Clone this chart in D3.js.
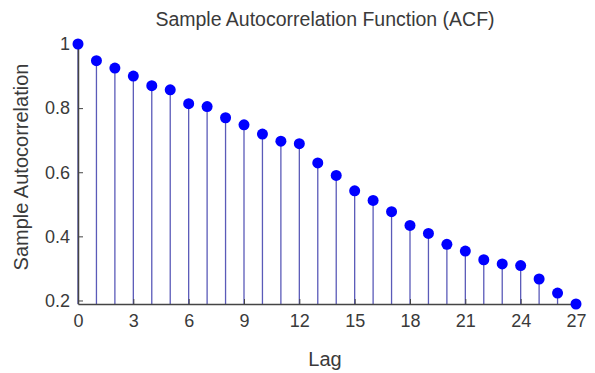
<!DOCTYPE html>
<html>
<head>
<meta charset="utf-8">
<script src="https://cdn.jsdelivr.net/npm/d3@7"></script>
<style>
  body { margin: 0; background: #fff; }
  text { font-family: "Liberation Sans", Arial, sans-serif; fill: #3a3a3a; }
</style>
</head>
<body>
<div id="wrapper"></div>
<script>
// lags and sample autocorrelation values
const lags = d3.range(0, 28);
const acf = [1.0, 0.948, 0.925, 0.900, 0.870, 0.857, 0.814, 0.805, 0.770, 0.748,
             0.719, 0.697, 0.689, 0.629, 0.590, 0.542, 0.512, 0.477, 0.434, 0.409,
             0.375, 0.354, 0.327, 0.314, 0.309, 0.267, 0.223, 0.189];
const xTicks = [0, 3, 6, 9, 12, 15, 18, 21, 24, 27];
const yTicks = [0.2, 0.4, 0.6, 0.8, 1];

const dataset = lags.map((l, i) => ({lag: l, value: acf[i]}));

let dimensions = {
  width: 595,
  height: 373,
  margin: { top: 44, right: 19, bottom: 69, left: 78 }
};
dimensions.boundedWidth = dimensions.width - dimensions.margin.left - dimensions.margin.right;
dimensions.boundedHeight = dimensions.height - dimensions.margin.top - dimensions.margin.bottom;

const wrapper = d3.select("#wrapper")
  .append("svg")
    .attr("width", dimensions.width)
    .attr("height", dimensions.height);

const bounds = wrapper.append("g")
    .attr("transform", `translate(${dimensions.margin.left},${dimensions.margin.top})`);

const xScaler = d3.scaleLinear()
    .domain([0, 27])
    .range([0, dimensions.boundedWidth]);

const yScaler = d3.scaleLinear()
    .domain([0.189, 1])
    .range([dimensions.boundedHeight, 0]);

// stems
bounds.selectAll(".stem")
  .data(dataset)
  .join("line")
    .attr("class", "stem")
    .attr("x1", d => xScaler(d.lag))
    .attr("x2", d => xScaler(d.lag))
    .attr("y1", yScaler(0.189))
    .attr("y2", d => yScaler(d.value))
    .attr("stroke", "#5a5ab8")
    .attr("stroke-width", 1.3);

// axes
const xAxisGen = d3.axisBottom(xScaler)
    .tickValues(xTicks)
    .tickFormat(d3.format("d"))
    .tickSizeInner(-5)
    .tickSizeOuter(0)
    .tickPadding(10);
const yAxisGen = d3.axisLeft(yScaler)
    .tickValues(yTicks)
    .tickFormat(d => d === 1 ? "1" : d3.format(".1f")(d))
    .tickSizeInner(-5)
    .tickSizeOuter(0)
    .tickPadding(8);

const xAxis = bounds.append("g")
    .attr("transform", `translate(0,${dimensions.boundedHeight})`)
    .call(xAxisGen);
const yAxis = bounds.append("g")
    .call(yAxisGen);

[xAxis, yAxis].forEach(ax => {
  ax.select(".domain").attr("stroke", "#444").attr("stroke-width", 1.5);
  ax.selectAll(".tick line").attr("stroke", "#444");
  ax.selectAll(".tick text")
    .style("font-size", "18px")
    .style("font-family", "Liberation Sans, Arial, sans-serif")
    .attr("fill", "#3a3a3a");
});

// markers
bounds.selectAll(".dot")
  .data(dataset)
  .join("circle")
    .attr("class", "dot")
    .attr("cx", d => xScaler(d.lag))
    .attr("cy", d => yScaler(d.value))
    .attr("r", 5.5)
    .attr("fill", "#0000ff");

// labels
wrapper.append("text")
    .attr("x", 325)
    .attr("y", 26)
    .attr("text-anchor", "middle")
    .style("font-size", "19.5px")
    .text("Sample Autocorrelation Function (ACF)");

wrapper.append("text")
    .attr("x", 325)
    .attr("y", 366)
    .attr("text-anchor", "middle")
    .style("font-size", "20px")
    .text("Lag");

wrapper.append("text")
    .attr("transform", `translate(28,167) rotate(-90)`)
    .attr("text-anchor", "middle")
    .style("font-size", "20px")
    .text("Sample Autocorrelation");
</script>
</body>
</html>
